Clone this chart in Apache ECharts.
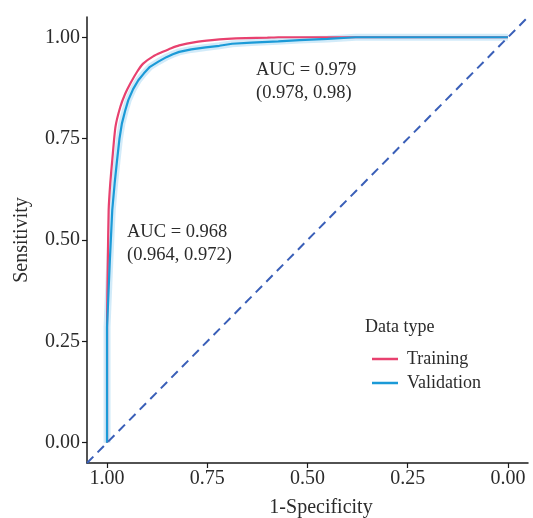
<!DOCTYPE html>
<html><head><meta charset="utf-8">
<script src="https://cdn.jsdelivr.net/npm/echarts@6/dist/echarts.min.js"></script>
<style>html,body{margin:0;padding:0;background:#fff}#c{width:533px;height:518px}</style>
</head><body><div id="c"></div>
<script>
// Training ROC (x = specificity on reversed axis, y = sensitivity)
var trainSpec = [1.000, 1.000, 0.998, 0.996, 0.992, 0.987, 0.979, 0.967, 0.955, 0.942, 0.925, 0.910, 0.885, 0.861, 0.840, 0.820, 0.780, 0.738, 0.700, 0.655, 0.600, 0.573, 0.500, 0.400, 0.300, 0.200, 0.100, 0.000];
var trainSens = [0.000, 0.290, 0.450, 0.574, 0.640, 0.697, 0.779, 0.828, 0.860, 0.886, 0.915, 0.935, 0.953, 0.964, 0.973, 0.980, 0.988, 0.993, 0.996, 0.998, 0.999, 1.000, 1.000, 1.000, 1.000, 1.000, 1.000, 1.000];
// Validation ROC
var valSpec = [1.000, 1.000, 0.993, 0.987, 0.981, 0.975, 0.969, 0.963, 0.955, 0.947, 0.935, 0.922, 0.908, 0.893, 0.872, 0.852, 0.836, 0.820, 0.790, 0.754, 0.720, 0.688, 0.640, 0.573, 0.520, 0.450, 0.380, 0.300, 0.200, 0.100, 0.000];
var valSens = [0.000, 0.285, 0.450, 0.574, 0.640, 0.697, 0.750, 0.787, 0.818, 0.845, 0.872, 0.894, 0.911, 0.927, 0.940, 0.951, 0.958, 0.964, 0.970, 0.975, 0.979, 0.984, 0.987, 0.990, 0.993, 0.996, 1.000, 1.000, 1.000, 1.000, 1.000];
// Reference diagonal
var refX = [1.05, -0.05];
var refY = [-0.05, 1.05];
// Tick values
var tickVals = [0, 0.25, 0.5, 0.75, 1];
var seriesNames = ['Training', 'Validation'];
var aucText1 = ['AUC = 0.979', '(0.978, 0.98)'];
var aucText2 = ['AUC = 0.968', '(0.964, 0.972)'];

function zip(a, b) { return a.map(function (v, i) { return [v, b[i]]; }); }

var FONT = 'Liberation Serif';
var TXT = '#2b2b2b';
var chart = echarts.init(document.getElementById('c'), null, {renderer: 'canvas'});
chart.setOption({
  backgroundColor: '#fff',
  animation: false,
  grid: {left: 87, right: 0, top: 17, bottom: 55, containLabel: false},
  xAxis: {
    type: 'value', inverse: true, min: -0.05, max: 1.05,
    splitLine: {show: false},
    axisLine: {onZero: false, lineStyle: {color: '#1a1a1a', width: 1.5}},
    axisTick: {customValues: tickVals, length: 5, lineStyle: {color: '#1a1a1a', width: 1.2}},
    axisLabel: {customValues: tickVals, formatter: function (v) { return v.toFixed(2); },
      fontFamily: FONT, fontSize: 20, color: TXT, margin: 6}
  },
  yAxis: {
    type: 'value', min: -0.05, max: 1.05,
    splitLine: {show: false},
    axisLine: {onZero: false, lineStyle: {color: '#1a1a1a', width: 1.5}},
    axisTick: {customValues: tickVals, length: 5, lineStyle: {color: '#1a1a1a', width: 1.2}},
    axisLabel: {customValues: tickVals, formatter: function (v) { return v.toFixed(2); },
      fontFamily: FONT, fontSize: 20, color: TXT, margin: 7}
  },
  legend: {
    orient: 'vertical', left: 367, top: 345,
    data: seriesNames, icon: 'rect', itemWidth: 26, itemHeight: 2.5, itemGap: 6,
    textStyle: {fontFamily: FONT, fontSize: 18, color: TXT, padding: [0, 0, 0, 4]}
  },
  graphic: [
    {type: 'text', left: 256, top: 59, style: {text: aucText1.join('\n'), font: '18.5px "Liberation Serif"', fill: TXT, lineHeight: 23}},
    {type: 'text', left: 127, top: 221, style: {text: aucText2.join('\n'), font: '18.5px "Liberation Serif"', fill: TXT, lineHeight: 23}},
    {type: 'text', left: 365, top: 318, style: {text: 'Data type', font: '18px "Liberation Serif"', fill: TXT}},
    {type: 'text', x: 321, y: 508, style: {text: '1-Specificity', font: '20px "Liberation Serif"', fill: TXT, align: 'center', verticalAlign: 'middle'}},
    {type: 'text', x: 22, y: 240, rotation: Math.PI / 2, style: {text: 'Sensitivity', font: '20px "Liberation Serif"', fill: TXT, align: 'center', verticalAlign: 'middle'}}
  ],
  series: [
    {name: 'band', type: 'line', data: zip(valSpec, valSens), showSymbol: false, silent: true, z: 1,
      lineStyle: {color: '#bfe3f6', width: 7, opacity: 0.7}},
    {name: 'Training', type: 'line', data: zip(trainSpec, trainSens), showSymbol: false, z: 3, smooth: 0.2,
      color: '#e8416f', lineStyle: {color: '#e8416f', width: 2.2}},
    {name: 'Validation', type: 'line', data: zip(valSpec, valSens), showSymbol: false, z: 4,
      color: '#1b9ad7', lineStyle: {color: '#1b9ad7', width: 2.2}},
    {name: 'ref', type: 'line', data: zip(refX, refY), showSymbol: false, silent: true, z: 5,
      lineStyle: {color: '#3a5fb8', width: 2, type: [9, 6]}}
  ]
});
</script></body></html>
